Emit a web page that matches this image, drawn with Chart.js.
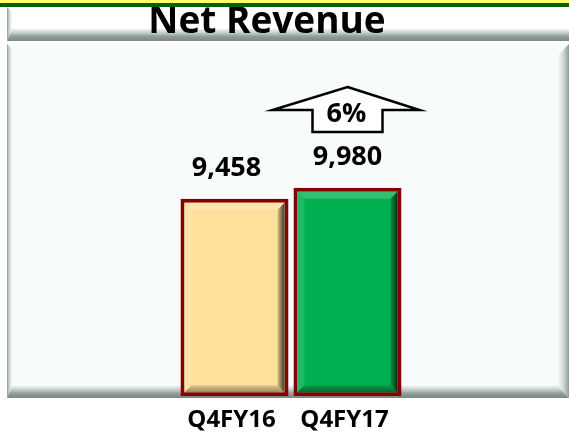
<!DOCTYPE html>
<html>
<head>
<meta charset="utf-8">
<title>Net Revenue</title>
<script src="https://cdn.jsdelivr.net/npm/chart.js@4"></script>
<style>
  html, body { margin: 0; padding: 0; background: #ffffff; }
  #wrap { width: 569px; height: 433px; position: relative; }
</style>
</head>
<body>
<div id="wrap"><canvas id="revenueChart" width="569" height="433"></canvas></div>
<script>
// chart data
const categories = ['Q4FY16', 'Q4FY17'];
const netRevenue = [9458, 9980];
const barColors = ['#ffdf9a', '#00b050'];
const chartTitle = 'Net Revenue';
const growthText = '6%';

// draws the frame: top strip, title box and the bevelled panel
const framePlugin = {
    id: 'frame',
    beforeDraw(chart) {
        const ctx = chart.ctx;
        const W = chart.width;
        ctx.save();
        ctx.fillStyle = '#ffffff';
        ctx.fillRect(0, 0, W, chart.height);

        // title box
        bevelBox(ctx, 7, 7, W - 7, 41, '#ffffff', 5, 12, 0);

        // plot panel
        bevelBox(ctx, 7, 44, W - 7, 398, '#f7fbfa', 5, 12, 11);

        // title text (top is cut by the strip)
        ctx.fillStyle = '#000000';
        ctx.font = 'bold 37px "Open Sans"';
        ctx.textAlign = 'center';
        ctx.textBaseline = 'alphabetic';
        ctx.fillText(chartTitle, 267, 33);

        // yellow strip + green rule
        ctx.fillStyle = '#ffff66';
        ctx.fillRect(0, 0, W, 3);
        ctx.fillStyle = '#0b5e0b';
        ctx.fillRect(0, 3, W, 4);
        ctx.restore();
    }
};

function bevelBox(ctx, x, y, w, y2, fill, left, bottom, right) {
    const h = y2 - y;
    ctx.fillStyle = fill;
    ctx.fillRect(x, y, w, h);
    let g;
    // left edge
    g = ctx.createLinearGradient(x, 0, x + left, 0);
    g.addColorStop(0, '#8e9c98');
    g.addColorStop(1, 'rgba(230,236,235,0.3)');
    ctx.fillStyle = g;
    ctx.beginPath();
    ctx.moveTo(x, y); ctx.lineTo(x + left, y + left);
    ctx.lineTo(x + left, y2 - bottom); ctx.lineTo(x, y2);
    ctx.closePath(); ctx.fill();
    // bottom edge
    g = ctx.createLinearGradient(0, y2 - bottom, 0, y2);
    g.addColorStop(0, 'rgba(225,230,229,0.6)');
    g.addColorStop(0.6, '#939f9b');
    g.addColorStop(1, '#7a8783');
    ctx.fillStyle = g;
    ctx.beginPath();
    ctx.moveTo(x, y2); ctx.lineTo(x + left, y2 - bottom);
    ctx.lineTo(x + w - right, y2 - bottom); ctx.lineTo(x + w, y2);
    ctx.closePath(); ctx.fill();
    // right edge
    if (right > 0) {
        g = ctx.createLinearGradient(x + w - right, 0, x + w, 0);
        g.addColorStop(0, 'rgba(235,240,239,0.4)');
        g.addColorStop(1, '#8a9894');
        ctx.fillStyle = g;
        ctx.beginPath();
        ctx.moveTo(x + w, y); ctx.lineTo(x + w - right, y + right);
        ctx.lineTo(x + w - right, y2 - bottom); ctx.lineTo(x + w, y2);
        ctx.closePath(); ctx.fill();
    }
}

// bevel on each bar, value labels and the growth arrow
const barDecorPlugin = {
    id: 'barDecor',
    afterDatasetsDraw(chart) {
        const ctx = chart.ctx;
        const meta = chart.getDatasetMeta(0);
        const bw = 4;      // border width
        const bev = 7;     // bevel depth
        const labelShift = [-8, 0];
        ctx.save();
        meta.data.forEach((bar, i) => {
            const p = bar.getProps(['x', 'y', 'base', 'width'], true);
            const l = p.x - p.width / 2 + bw, r = p.x + p.width / 2 - bw;
            const t = p.y + bw, b = p.base - bw;
            let g;
            // top
            ctx.fillStyle = 'rgba(255,255,255,0.2)';
            ctx.beginPath();
            ctx.moveTo(l, t); ctx.lineTo(r, t); ctx.lineTo(r - bev, t + bev); ctx.lineTo(l + bev, t + bev);
            ctx.closePath(); ctx.fill();
            // left
            ctx.fillStyle = 'rgba(255,255,255,0.12)';
            ctx.beginPath();
            ctx.moveTo(l, t); ctx.lineTo(l + bev, t + bev); ctx.lineTo(l + bev, b - bev); ctx.lineTo(l, b);
            ctx.closePath(); ctx.fill();
            // right
            g = ctx.createLinearGradient(r - bev, 0, r, 0);
            g.addColorStop(0, 'rgba(0,0,0,0.15)');
            g.addColorStop(1, 'rgba(0,0,0,0.75)');
            ctx.fillStyle = g;
            ctx.beginPath();
            ctx.moveTo(r, t); ctx.lineTo(r, b); ctx.lineTo(r - bev, b - bev); ctx.lineTo(r - bev, t + bev);
            ctx.closePath(); ctx.fill();
            // bottom
            g = ctx.createLinearGradient(0, b - bev, 0, b);
            g.addColorStop(0, 'rgba(0,0,0,0.1)');
            g.addColorStop(1, 'rgba(0,0,0,0.4)');
            ctx.fillStyle = g;
            ctx.beginPath();
            ctx.moveTo(l, b); ctx.lineTo(r, b); ctx.lineTo(r - bev, b - bev); ctx.lineTo(l + bev, b - bev);
            ctx.closePath(); ctx.fill();

            // value label
            ctx.fillStyle = '#000000';
            ctx.font = 'bold 27px "Open Sans"';
            ctx.textAlign = 'center';
            ctx.textBaseline = 'middle';
            ctx.fillText(netRevenue[i].toLocaleString('en-US'), p.x + labelShift[i], p.y - 30);
        });

        // growth arrow over the last bar
        const last = meta.data[meta.data.length - 1];
        const ax = last.x;
        ctx.beginPath();
        ctx.moveTo(ax, 87);
        ctx.lineTo(ax + 72, 110);
        ctx.lineTo(ax + 35, 110);
        ctx.lineTo(ax + 35, 132);
        ctx.lineTo(ax - 35, 132);
        ctx.lineTo(ax - 35, 110);
        ctx.lineTo(ax - 75, 110);
        ctx.closePath();
        ctx.fillStyle = '#ffffff';
        ctx.fill();
        ctx.lineWidth = 2.5;
        ctx.lineJoin = 'miter';
        ctx.strokeStyle = '#000000';
        ctx.stroke();
        ctx.fillStyle = '#000000';
        ctx.font = 'bold 27px "Open Sans"';
        ctx.textAlign = 'center';
        ctx.textBaseline = 'middle';
        ctx.fillText(growthText, ax - 1, 114);
        ctx.restore();
    }
};

new Chart(document.getElementById('revenueChart'), {
    type: 'bar',
    data: {
        labels: categories,
        datasets: [{
            data: netRevenue,
            backgroundColor: barColors,
            borderColor: '#870000',
            borderWidth: 4,
            borderSkipped: false,
            barPercentage: 0.956,
            categoryPercentage: 1.0
        }]
    },
    options: {
        responsive: false,
        animation: false,
        events: [],
        layout: { padding: { left: 178, right: 165, top: 60, bottom: -12 } },
        plugins: {
            legend: { display: false },
            tooltip: { enabled: false }
        },
        scales: {
            x: {
                grid: { display: false, drawTicks: false },
                border: { display: false },
                ticks: {
                    color: '#000000',
                    padding: 10,
                    labelOffset: -3,
                    font: { family: 'Open Sans', size: 24, weight: 'bold' }
                }
            },
            y: {
                display: false,
                min: 0,
                max: 16100
            }
        }
    },
    plugins: [framePlugin, barDecorPlugin]
});
</script>
</body>
</html>
